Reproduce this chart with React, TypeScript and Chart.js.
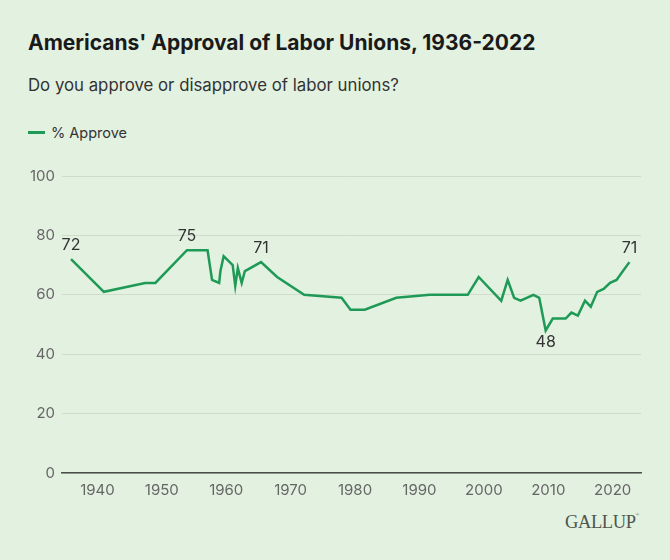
import React, { useEffect, useRef } from "react";
import { Chart, registerables } from "chart.js";

Chart.register(...registerables);

// survey dates (fractional years) and % approve
const years = [
  1935.9, 1941.0, 1947.4, 1949.0, 1953.9, 1957.1, 1957.8, 1958.9, 1959.1, 1959.6,
  1961.0, 1961.4, 1961.8, 1962.4, 1962.9, 1965.4, 1967.9, 1972.1, 1977.9, 1979.3,
  1981.5, 1986.4, 1991.6, 1997.5, 1999.2, 2002.7, 2003.7, 2004.7, 2005.7, 2007.7,
  2008.6, 2009.6, 2010.7, 2011.7, 2012.7, 2013.6, 2014.6, 2015.7, 2016.6, 2017.6,
  2018.6, 2019.6, 2020.6, 2021.6, 2022.6,
];
const approve = [
  72, 61, 64, 64, 75, 75, 65, 64, 68, 73,
  70, 63, 69, 64, 68, 71, 66, 60, 59, 55,
  55, 59, 60, 60, 66, 58, 65, 59, 58, 60,
  59, 48, 52, 52, 52, 54, 53, 58, 56, 61,
  62, 64, 65, 68, 71,
];
// indexes of the points that carry a value label, and where it sits
const labelled = [0, 4, 15, 31, 44];
const labelBelow = [false, false, false, true, false];

const xTicks = [1940, 1950, 1960, 1970, 1980, 1990, 2000, 2010, 2020];
const yTicks = [0, 20, 40, 60, 80, 100];

const GREEN = "#1f9a56";
const FONT = "Inter, 'Noto Sans', sans-serif";

const pointLabels = {
  id: "pointLabels",
  afterDatasetsDraw(chart: any) {
    const { ctx, scales } = chart;
    ctx.save();
    ctx.font = `16px ${FONT}`;
    ctx.fillStyle = "#333";
    ctx.textAlign = "center";
    labelled.forEach((i, k) => {
      const x = scales.x.getPixelForValue(years[i]);
      const y = scales.y.getPixelForValue(approve[i]);
      ctx.textBaseline = labelBelow[k] ? "top" : "bottom";
      ctx.fillText(String(approve[i]), x, labelBelow[k] ? y + 4 : y - 6);
    });
    ctx.restore();
  },
};

const App: React.FC = () => {
  const chartRef = useRef<HTMLCanvasElement | null>(null);

  useEffect(() => {
    document.body.style.margin = "0";
    if (!chartRef.current) return;
    const ctx = chartRef.current.getContext("2d");
    if (!ctx) return;

    const chart = new Chart(ctx, {
      type: "line",
      data: {
        datasets: [
          {
            label: "% Approve",
            data: years.map((y, i) => ({ x: y, y: approve[i] })),
            borderColor: GREEN,
            borderWidth: 2.5,
            pointRadius: 0,
            tension: 0,
            fill: false,
          },
        ],
      },
      options: {
        animation: false,
        responsive: false,
        layout: { padding: { top: 16, right: 29, left: 0, bottom: 0 } },
        plugins: {
          legend: { display: false },
          tooltip: { enabled: false },
        },
        scales: {
          x: {
            type: "linear",
            min: 1934.5,
            max: 2024.4,
            afterBuildTicks: (scale: any) => {
              scale.ticks = xTicks.map((v) => ({ value: v }));
            },
            afterFit: (scale: any) => {
              scale.height = 37;
            },
            grid: { display: false, drawTicks: false },
            border: { display: true, color: "#4a4f4a", width: 1.5 },
            ticks: {
              padding: 8,
              color: "#666",
              font: { family: FONT, size: 15 },
              callback: (v: any) => String(v),
            },
          },
          y: {
            min: 0,
            max: 100,
            afterBuildTicks: (scale: any) => {
              scale.ticks = yTicks.map((v) => ({ value: v }));
            },
            afterFit: (scale: any) => {
              scale.width = 62;
            },
            grid: { color: "#cfdccb", drawTicks: false, lineWidth: 1 },
            border: { display: false },
            ticks: {
              padding: 7,
              color: "#666",
              font: { family: FONT, size: 15 },
            },
          },
        },
      },
      plugins: [pointLabels],
    });

    return () => {
      chart.destroy();
    };
  }, []);

  return (
    <div
      style={{
        position: "relative",
        width: 670,
        height: 560,
        background: "#e3f1e0",
        fontFamily: FONT,
        overflow: "hidden",
      }}
    >
      <div
        style={{
          position: "absolute",
          left: 28,
          top: 30,
          fontSize: 21,
          fontWeight: 700,
          color: "#1a1a1a",
          whiteSpace: "nowrap",
        }}
      >
        Americans' Approval of Labor Unions, 1936-2022
      </div>
      <div
        style={{
          position: "absolute",
          left: 28,
          top: 75,
          fontSize: 16.8,
          color: "#333",
          whiteSpace: "nowrap",
        }}
      >
        Do you approve or disapprove of labor unions?
      </div>
      <div
        style={{
          position: "absolute",
          left: 28,
          top: 124,
          fontSize: 14.5,
          color: "#333",
          display: "flex",
          alignItems: "center",
          whiteSpace: "nowrap",
        }}
      >
        <span
          style={{
            display: "inline-block",
            width: 17,
            height: 3,
            background: GREEN,
            marginRight: 6,
          }}
        />
        % Approve
      </div>
      <canvas
        ref={chartRef}
        width={670}
        height={350}
        style={{ position: "absolute", left: 0, top: 160 }}
      />
      <div
        style={{
          position: "absolute",
          right: 31,
          top: 512,
          fontFamily: "'Liberation Serif', 'DejaVu Serif', serif",
          fontSize: 18.5,
          color: "#4d554d",
          letterSpacing: -0.4,
          whiteSpace: "nowrap",
        }}
      >
        GALLUP<sup style={{ fontSize: 5, verticalAlign: "top" }}>®</sup>
      </div>
    </div>
  );
};

export default App;
